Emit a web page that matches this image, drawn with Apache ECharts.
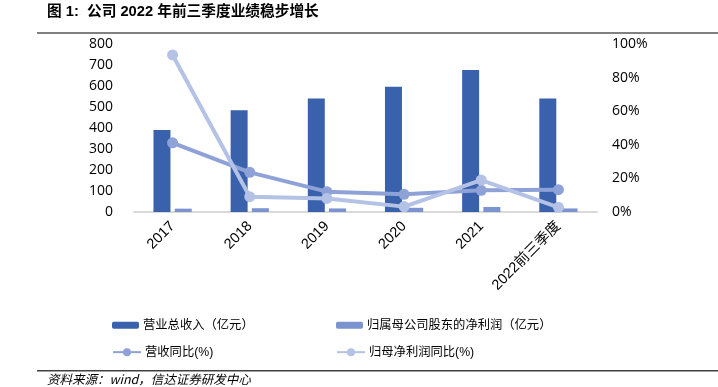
<!DOCTYPE html>
<html><head><meta charset="utf-8">
<script src="https://cdn.jsdelivr.net/npm/echarts@6/dist/echarts.min.js"></script>
<style>html,body{margin:0;padding:0;background:#fff}#c{width:718px;height:387px}</style>
</head><body><div id="c"></div>
<script>
const categories = ['2017','2018','2019','2020','2021','2022前三季度'];
const revenue = [390, 484, 541, 597, 676, 540];
const netProfit = [16, 18, 17, 20, 24, 17];
const revenueYoY = [41.2, 23.6, 12.1, 10.5, 12.9, 13.3];
const profitYoY = [93.5, 9.1, 8.1, 3.2, 19.0, 2.8];
const leftTicks = {min:0, max:800, interval:100};
const rightTicks = {min:0, max:100, interval:20};

const numFont = '"Open Sans","Noto Sans CJK SC",sans-serif';
const cjkFont = '"Liberation Sans","Noto Sans CJK SC",sans-serif';
const chart = echarts.init(document.getElementById('c'));
const c1='#3A62AC', c2='#7B94CF', c3='#8FA2D8', c4='#B4C2E6';
const legendBase = {itemGap:0, padding:0, textStyle:{fontFamily:cjkFont,fontSize:12.3,color:'#000',padding:[0,0,0,-1]}};
chart.setOption({
  animation:false,
  grid:{left:134,right:121,top:44,bottom:175},
  graphic:[
    {type:'text',left:47,top:5,style:{text:'图 1:  公司 2022 年前三季度业绩稳步增长',font:'bold 14.7px "Liberation Sans","Noto Sans CJK SC",sans-serif',fill:'#000'}},
    {type:'rect',shape:{x:37,y:32,width:681,height:2},style:{fill:'#808080'}},
    {type:'rect',shape:{x:37,y:370,width:681,height:1.5},style:{fill:'#404040'}},
    {type:'text',left:47,top:373,style:{text:'资料来源：wind，信达证券研发中心',font:'italic 12.5px "Noto Sans CJK SC",sans-serif',fill:'#000'}}
  ],
  legend:[
    Object.assign({left:112,top:319,itemWidth:27,itemHeight:7,data:['营业总收入（亿元）']},legendBase),
    Object.assign({left:336,top:319,itemWidth:27,itemHeight:7,data:['归属母公司股东的净利润（亿元）']},legendBase),
    Object.assign({left:112,top:346,itemWidth:28,itemHeight:10,data:['营收同比(%)']},legendBase),
    Object.assign({left:336,top:346,itemWidth:28,itemHeight:10,data:['归母净利润同比(%)']},legendBase)
  ],
  xAxis:{type:'category',data:categories,
    axisLine:{lineStyle:{color:'#D9D9D9',width:2}},axisTick:{show:false},
    axisLabel:{rotate:45,fontFamily:cjkFont,fontSize:14.5,color:'#000',margin:12,interval:0}},
  yAxis:[
    {type:'value',min:leftTicks.min,max:leftTicks.max,interval:leftTicks.interval,
     splitLine:{show:false},axisLine:{show:false},axisTick:{show:false},
     axisLabel:{fontFamily:numFont,fontSize:14,color:'#000',margin:21}},
    {type:'value',min:rightTicks.min,max:rightTicks.max,interval:rightTicks.interval,
     splitLine:{show:false},axisLine:{show:false},axisTick:{show:false},
     axisLabel:{fontFamily:numFont,fontSize:14,color:'#000',margin:15,formatter:'{value}%'}}
  ],
  series:[
    {name:'营业总收入（亿元）',type:'bar',data:revenue,barWidth:17,barGap:'25%',itemStyle:{color:c1}},
    {name:'归属母公司股东的净利润（亿元）',type:'bar',data:netProfit,barWidth:17,itemStyle:{color:c2}},
    {name:'营收同比(%)',type:'line',yAxisIndex:1,data:revenueYoY,symbol:'circle',symbolSize:11,
     lineStyle:{color:c3,width:4},itemStyle:{color:c3}},
    {name:'归母净利润同比(%)',type:'line',yAxisIndex:1,data:profitYoY,symbol:'circle',symbolSize:11,
     lineStyle:{color:c4,width:4},itemStyle:{color:c4}}
  ]
});
</script></body></html>
